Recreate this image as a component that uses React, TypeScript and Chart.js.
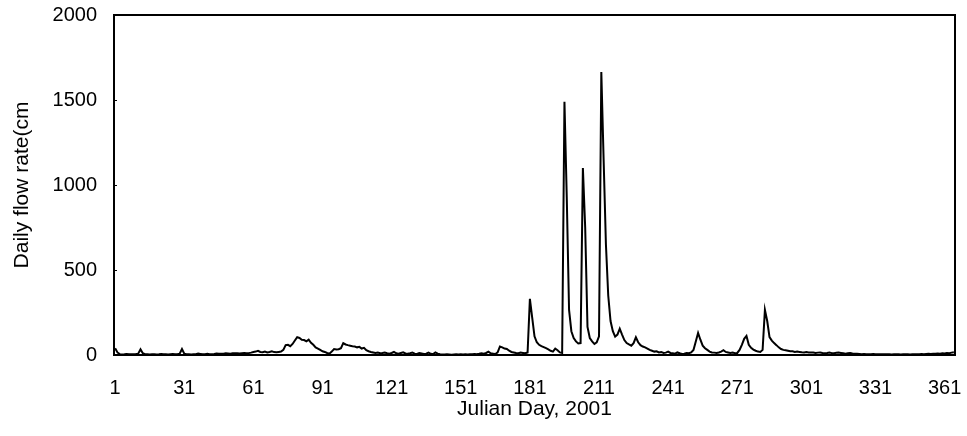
import React, { useEffect, useRef } from "react";
import { Chart, registerables } from "chart.js";

Chart.register(...registerables);

// Daily flow rate by month (Julian days 1..365, 2001)
const jan = [40, 15, 5, 3, 4, 6, 5, 4, 5, 6, 8, 33, 10, 5, 4, 3, 5, 4, 3, 4, 6, 5, 4, 3, 5, 6, 5, 4, 8, 35, 8];
const feb = [5, 4, 3, 4, 5, 8, 6, 4, 5, 7, 5, 4, 6, 9, 8, 7, 8, 10, 9, 8, 10, 11, 10, 9, 11, 12, 10, 11];
const mar = [14, 18, 20, 25, 18, 16, 20, 15, 18, 22, 17, 16, 18, 20, 30, 58, 60, 52, 65, 85, 105, 100, 90, 88, 80, 90, 72, 60, 45, 38, 30];
const apr = [22, 18, 12, 8, 20, 35, 32, 34, 40, 70, 62, 58, 55, 52, 50, 45, 48, 38, 42, 28, 22, 18, 15, 12, 14, 10, 12, 15, 10, 8];
const may = [12, 18, 10, 8, 12, 16, 9, 7, 10, 14, 8, 6, 12, 9, 6, 8, 14, 7, 5, 15, 8, 4, 3, 3, 4, 3, 2, 3, 4, 3, 4];
const jun = [3, 4, 3, 5, 4, 6, 5, 7, 10, 8, 12, 20, 10, 8, 6, 15, 50, 45, 38, 35, 25, 18, 15, 12, 10, 14, 12, 10, 15, 330];
const jul = [220, 110, 75, 60, 52, 46, 40, 33, 25, 20, 38, 28, 15, 12, 1490, 930, 265, 140, 100, 80, 68, 70, 1100, 750, 165, 100, 80, 65, 75, 110, 1665];
const aug = [1150, 650, 350, 200, 140, 108, 120, 155, 120, 88, 70, 62, 55, 70, 104, 75, 58, 50, 45, 38, 30, 25, 20, 22, 15, 18, 12, 14, 20, 12, 10];
const sep = [8, 15, 10, 6, 8, 12, 10, 15, 30, 80, 130, 90, 55, 40, 30, 20, 15, 14, 12, 15, 20, 28, 18, 15, 12, 14, 10, 12, 30, 60];
const oct = [95, 112, 60, 42, 32, 25, 20, 18, 30, 265, 200, 105, 85, 70, 58, 45, 35, 30, 28, 25, 22, 22, 18, 20, 18, 16, 15, 17, 15, 14, 15];
const nov = [12, 14, 15, 12, 10, 12, 15, 11, 10, 13, 14, 12, 10, 8, 10, 12, 9, 8, 7, 6, 5, 6, 5, 4, 5, 6, 5, 4, 5, 4];
const dec = [4, 5, 4, 3, 4, 5, 4, 3, 4, 5, 4, 3, 4, 5, 4, 5, 6, 5, 6, 7, 6, 8, 7, 9, 8, 10, 9, 12, 11, 14, 16];

const xTickValues = [1, 31, 61, 91, 121, 151, 181, 211, 241, 271, 301, 331, 361];
const yTickValues = [0, 500, 1000, 1500, 2000];

const xTitle = "Julian Day, 2001";
const yTitle = "Daily flow rate(cm";

const FONT = "'Liberation Sans', Arial, sans-serif";

export default function App() {
  const ref = useRef<HTMLCanvasElement | null>(null);

  useEffect(() => {
    const all = [...jan, ...feb, ...mar, ...apr, ...may, ...jun, ...jul, ...aug, ...sep, ...oct, ...nov, ...dec];
    const points = all.map((v, i) => ({ x: i + 1, y: v }));

    const framePlugin = {
      id: "frame",
      afterDraw(chart: any) {
        const { ctx, chartArea } = chart;
        const ys = chart.scales.y;
        ctx.save();
        ctx.strokeStyle = "#000";
        ctx.lineWidth = 2;
        ctx.strokeRect(chartArea.left, chartArea.top, chartArea.right - chartArea.left, chartArea.bottom - chartArea.top);
        ctx.lineWidth = 1;
        yTickValues.forEach((v) => {
          if (v === 0 || v === 2000) return;
          const py = Math.round(ys.getPixelForValue(v)) + 0.5;
          ctx.beginPath();
          ctx.moveTo(chartArea.left, py);
          ctx.lineTo(chartArea.left + 3, py);
          ctx.stroke();
        });
        ctx.restore();
      },
    };

    const chart = new Chart(ref.current as HTMLCanvasElement, {
      type: "line",
      data: {
        datasets: [
          {
            data: points,
            borderColor: "#000",
            borderWidth: 2,
            pointRadius: 0,
            tension: 0,
            fill: false,
          },
        ],
      },
      options: {
        animation: false,
        responsive: false,
        devicePixelRatio: 1,
        layout: { padding: { left: 0, right: 12, top: 15, bottom: 0 } },
        plugins: { legend: { display: false }, tooltip: { enabled: false } },
        scales: {
          x: {
            type: "linear",
            min: 0.5,
            max: 365.5,
            grid: { display: false },
            border: { display: false },
            afterBuildTicks: (scale: any) => {
              scale.ticks = xTickValues.map((v) => ({ value: v }));
            },
            afterFit: (scale: any) => {
              scale.height = 81;
              scale.paddingLeft = 0;
              scale.paddingRight = 0;
            },
            ticks: {
              color: "#000",
              font: { family: FONT, size: 20 },
              padding: 13,
              maxRotation: 0,
              autoSkip: false,
              callback: (v: any) => String(v),
            },
            title: {
              display: true,
              text: xTitle,
              color: "#000",
              font: { family: FONT, size: 21 },
              padding: { top: 0, bottom: 14 },
            },
          },
          y: {
            min: 0,
            max: 2000,
            grid: { display: false },
            border: { display: false },
            afterBuildTicks: (scale: any) => {
              scale.ticks = yTickValues.map((v) => ({ value: v }));
            },
            afterFit: (scale: any) => {
              scale.width = 114;
              scale.paddingTop = 0;
              scale.paddingBottom = 0;
            },
            ticks: {
              color: "#000",
              font: { family: FONT, size: 20 },
              padding: 9,
              callback: (v: any) => String(v),
            },
            title: {
              display: true,
              text: yTitle,
              color: "#000",
              font: { family: FONT, size: 21 },
              padding: { top: 10, bottom: 0 },
            },
          },
        },
      },
      plugins: [framePlugin],
    });

    return () => chart.destroy();
  }, []);

  return (
    <div style={{ position: "absolute", left: 0, top: 0, width: 967, height: 436, background: "#fff" }}>
      <canvas ref={ref} width={967} height={436} />
    </div>
  );
}
